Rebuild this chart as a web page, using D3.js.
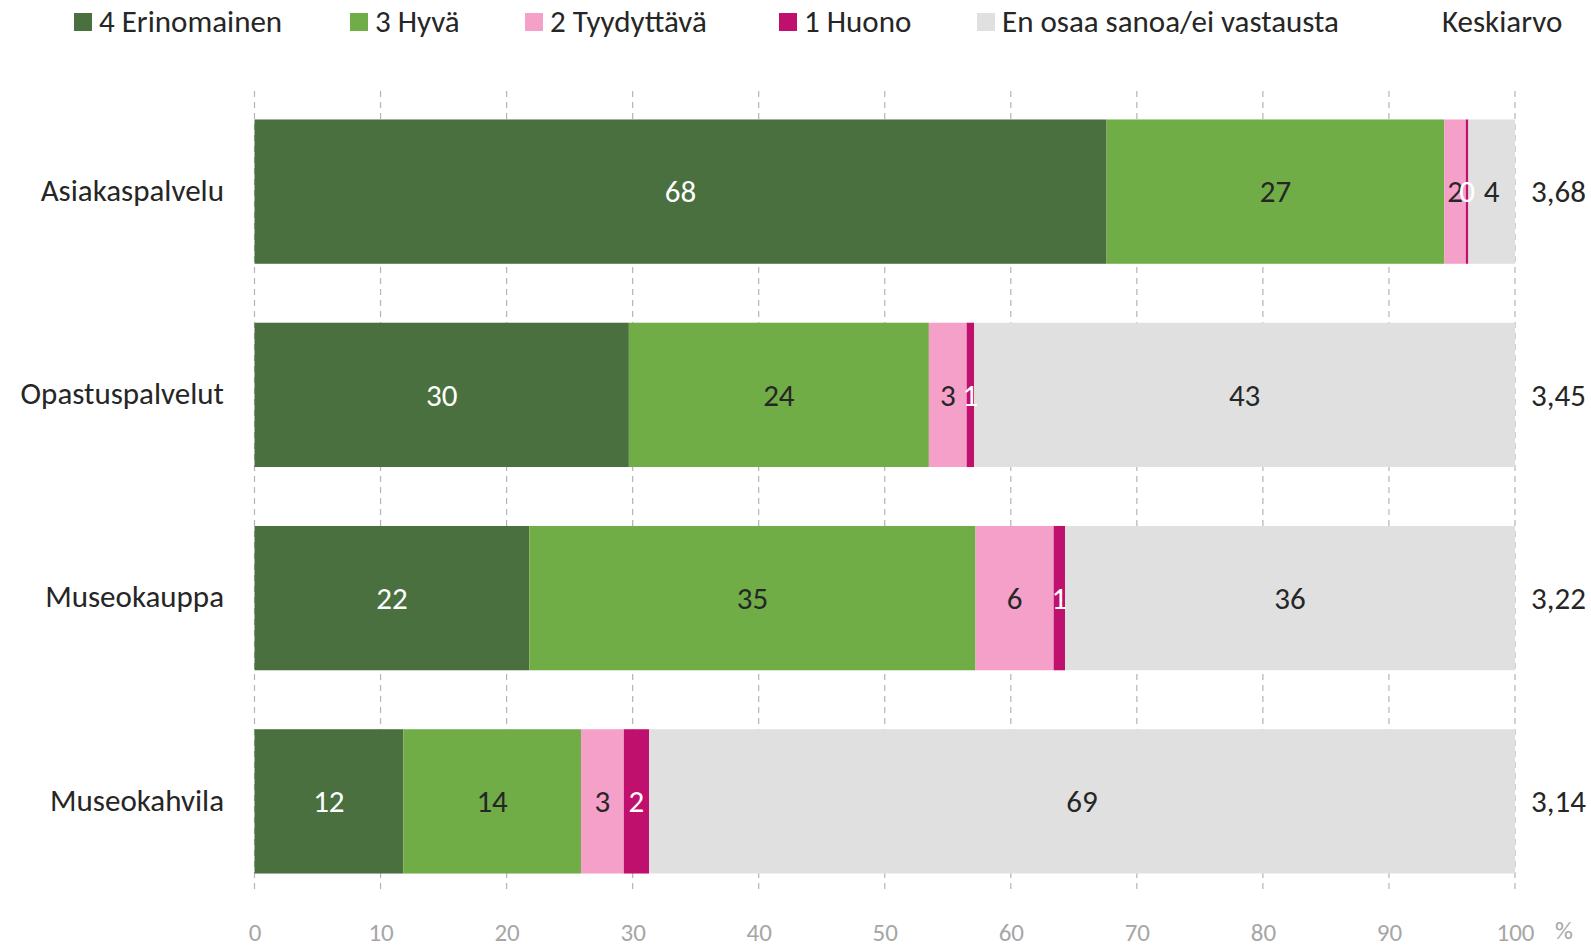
<!DOCTYPE html>
<html>
<head>
<meta charset="utf-8">
<script src="https://cdn.jsdelivr.net/npm/d3@7"></script>
<style>
  body { margin: 0; background: #fff; }
  svg text { font-family: Carlito, Lato, "Open Sans", sans-serif; }
</style>
</head>
<body>
<div id="chart"></div>
<script>
// categories and series (percent)
var categories = ["Asiakaspalvelu", "Opastuspalvelut", "Museokauppa", "Museokahvila"];
var seriesNames = ["4 Erinomainen", "3 Hyvä", "2 Tyydyttävä", "1 Huono", "En osaa sanoa/ei vastausta"];
var erinomainen = [67.6, 29.7, 21.8, 11.8];
var hyva = [26.8, 23.8, 35.4, 14.1];
var tyydyttava = [1.7, 3.0, 6.2, 3.4];
var huono = [0.2, 0.6, 0.9, 2.0];
var eos = [3.7, 42.9, 35.7, 68.7];
var keskiarvo = ["3,68", "3,45", "3,22", "3,14"];
var xTicks = [0, 10, 20, 30, 40, 50, 60, 70, 80, 90, 100];

var colors = ["#4a7040", "#70ad47", "#f4a0c8", "#c0106e", "#e0e0e0"];
var labelColors = ["#fff", "#262626", "#262626", "#fff", "#262626"];

var width = 1591, height = 950;
var fontMain = "31px";

var svg = d3.select("#chart").append("svg")
  .attr("width", width)
  .attr("height", height);

var x = d3.scaleLinear().domain([0, 100]).range([254.5, 1515]);
var y = d3.scaleBand().domain(categories).range([90, 903])
  .paddingInner(0.29).paddingOuter(0.145);

// dashed grid lines
svg.append("g").selectAll("line")
  .data(xTicks)
  .enter().append("line")
  .attr("x1", d => x(d)).attr("x2", d => x(d))
  .attr("y1", 91).attr("y2", 893)
  .attr("stroke", "#b4b4b4")
  .attr("stroke-width", 1.2)
  .attr("stroke-dasharray", "6,5");

// axis labels
var xAxis = svg.append("g")
  .attr("transform", "translate(0,932)")
  .call(d3.axisBottom(x).tickValues(xTicks).tickSize(0).tickPadding(0));
xAxis.select(".domain").remove();
xAxis.selectAll("text")
  .attr("dy", "0.35em")
  .attr("fill", "#a6a6a6")
  .style("font-size", "25px")
  .style("font-family", "Carlito, Lato, sans-serif");

svg.append("text")
  .attr("x", 1564).attr("y", 930).attr("dy", "0.35em")
  .attr("text-anchor", "middle")
  .attr("fill", "#a6a6a6")
  .style("font-size", "25px")
  .text("%");

// stacked rows
var rows = categories.map(function(c, i) {
  var vals = [erinomainen[i], hyva[i], tyydyttava[i], huono[i], eos[i]];
  var acc = 0;
  return vals.map(function(v, k) {
    var seg = {cat: c, k: k, v: v, x0: acc, x1: acc + v};
    acc += v;
    return seg;
  });
});
var segs = d3.merge(rows);

svg.append("g").selectAll("rect")
  .data(segs)
  .enter().append("rect")
  .attr("x", d => x(d.x0))
  .attr("width", d => x(d.x1) - x(d.x0))
  .attr("y", d => y(d.cat))
  .attr("height", y.bandwidth())
  .attr("fill", d => colors[d.k]);

svg.append("g").selectAll("text")
  .data(segs)
  .enter().append("text")
  .attr("x", d => (x(d.x0) + x(d.x1)) / 2)
  .attr("y", d => y(d.cat) + y.bandwidth() / 2)
  .attr("dy", "0.35em")
  .attr("text-anchor", "middle")
  .attr("fill", d => labelColors[d.k])
  .style("font-size", fontMain)
  .text(d => Math.round(d.v));

// category labels
svg.append("g").selectAll("text")
  .data(categories)
  .enter().append("text")
  .attr("x", 224)
  .attr("y", d => y(d) + y.bandwidth() / 2)
  .attr("dy", "0.3em")
  .attr("text-anchor", "end")
  .attr("fill", "#262626")
  .style("font-size", fontMain)
  .text(d => d);

// keskiarvo column
svg.append("g").selectAll("text")
  .data(keskiarvo)
  .enter().append("text")
  .attr("x", 1531)
  .attr("y", (d, i) => y(categories[i]) + y.bandwidth() / 2)
  .attr("dy", "0.35em")
  .attr("fill", "#262626")
  .style("font-size", fontMain)
  .text(d => d);

// legend
var legendX = [74, 350, 525, 779, 977];
var legend = svg.append("g").selectAll("g")
  .data(seriesNames)
  .enter().append("g")
  .attr("transform", (d, i) => "translate(" + legendX[i] + ",0)");
legend.append("rect")
  .attr("x", 0).attr("y", 13)
  .attr("width", 18).attr("height", 18)
  .attr("fill", (d, i) => colors[i]);
legend.append("text")
  .attr("x", 25).attr("y", 21).attr("dy", "0.35em")
  .attr("fill", "#262626")
  .style("font-size", fontMain)
  .text(d => d);

svg.append("text")
  .attr("x", 1442).attr("y", 21).attr("dy", "0.35em")
  .attr("fill", "#262626")
  .style("font-size", fontMain)
  .text("Keskiarvo");
</script>
</body>
</html>
